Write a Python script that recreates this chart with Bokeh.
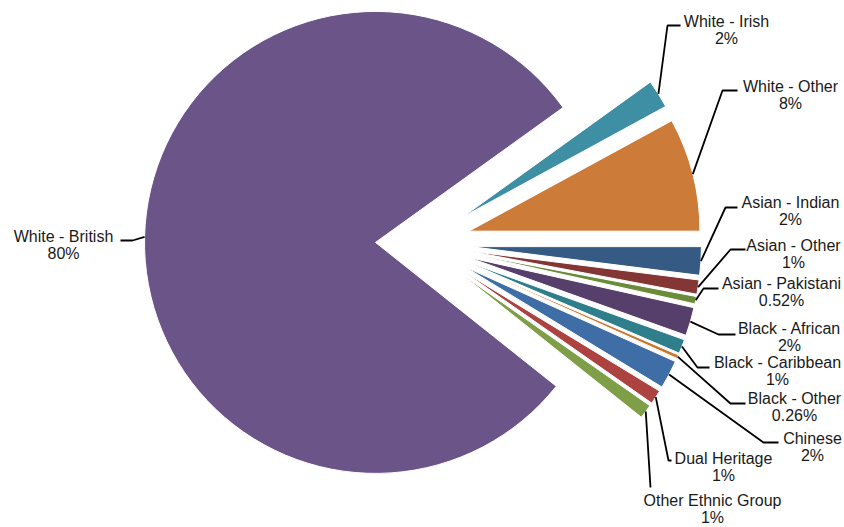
import math
from bokeh.plotting import figure
from bokeh.models import Range1d, ColumnDataSource
from bokeh.embed import file_html
from bokeh.resources import INLINE
from bokeh.core.properties import value

# ---- data ----
categories = ["White - British", "White - Irish", "White - Other", "Asian - Indian",
              "Asian - Other", "Asian - Pakistani", "Black - African", "Black - Caribbean",
              "Black - Other", "Chinese", "Dual Heritage", "Other Ethnic Group"]
percent = [80, 2, 8, 2, 1, 0.52, 2, 1, 0.26, 2, 1, 1]
colors = ["#6B5488", "#3E8FA4", "#CC7B38", "#355A83", "#843635", "#6C8B3A",
          "#563F6B", "#2F7E8B", "#C9762F", "#3F6DA5", "#AC4341", "#7F9E48"]

# ---- layout (pixels, y measured from top) ----
W, H = 844, 527
CX, CY = 420, 243
R = 231
EXPLODE_MAIN = 45
EXPLODE_OTHER = 50
# label centre x, first-line y, elbow x, elbow y, end x
label_layout = [
    (63, 236, 132, 240, 120),
    (726, 21, 667, 25, 680),
    (790, 86, 722, 90, 737),
    (790, 202, 725, 207, 737),
    (793, 245, 730, 249, 745),
    (781, 283, 703, 288, 718),
    (789, 328, 718, 334, 735),
    (777, 362, 697, 367, 709),
    (794, 398, 730, 403, 745),
    (812, 438, 763, 442, 778),
    (723, 458, 668, 460, 671),
    (712, 500, 650, 487, 650),
]
LINE_GAP = 17

def fy(y):
    return H - y

total = sum(percent)
start0 = sum(percent[:3]) / total * 360.0  # White - Other ends at 0 deg

xs, ys, starts, ends = [], [], [], []
lxs, lys = [], []
name_x, name_y, names, pct_x, pct_y, pcts = [], [], [], [], [], []
cum = 0.0
for i, v in enumerate(percent):
    a = start0 - cum / total * 360.0
    cum += v
    b = start0 - cum / total * 360.0
    m = math.radians((a + b) / 2.0)
    e = EXPLODE_MAIN if i == 0 else EXPLODE_OTHER
    ax = CX + e * math.cos(m)
    ay = fy(CY) + e * math.sin(m)
    xs.append(ax); ys.append(ay)
    starts.append(math.radians(b)); ends.append(math.radians(a))
    sx = ax + R * math.cos(m)
    sy = ay + R * math.sin(m)
    tx, ty, ex, ey, endx = label_layout[i]
    lxs.append([sx, ex, endx])
    lys.append([sy, fy(ey), fy(ey)])
    name_x.append(tx); name_y.append(fy(ty)); names.append(categories[i])
    pct_x.append(tx); pct_y.append(fy(ty + LINE_GAP)); pcts.append("{:g}%".format(v))

p = figure(width=W, height=H, x_range=Range1d(0, W), y_range=Range1d(0, H),
           output_backend="svg", toolbar_location=None,
           x_axis_type=None, y_axis_type=None, min_border=0,
           outline_line_color=None, background_fill_color="white",
           border_fill_color="white")

src = ColumnDataSource(dict(x=xs, y=ys, s=starts, e=ends, c=colors))
p.wedge(x="x", y="y", radius=R, start_angle="s", end_angle="e",
        fill_color="c", line_color="white", line_width=1, source=src)

p.multi_line(lxs, lys, line_color="black", line_width=1.8)

p.text(name_x, name_y, text=names, text_align="center", text_baseline="middle",
       text_font=value("Liberation Sans"), text_font_size="16px", text_color="#1a1a1a")
p.text(pct_x, pct_y, text=pcts, text_align="center", text_baseline="middle",
       text_font=value("Liberation Sans"), text_font_size="16px", text_color="#1a1a1a")

open("out.html", "w").write(file_html(p, INLINE))
